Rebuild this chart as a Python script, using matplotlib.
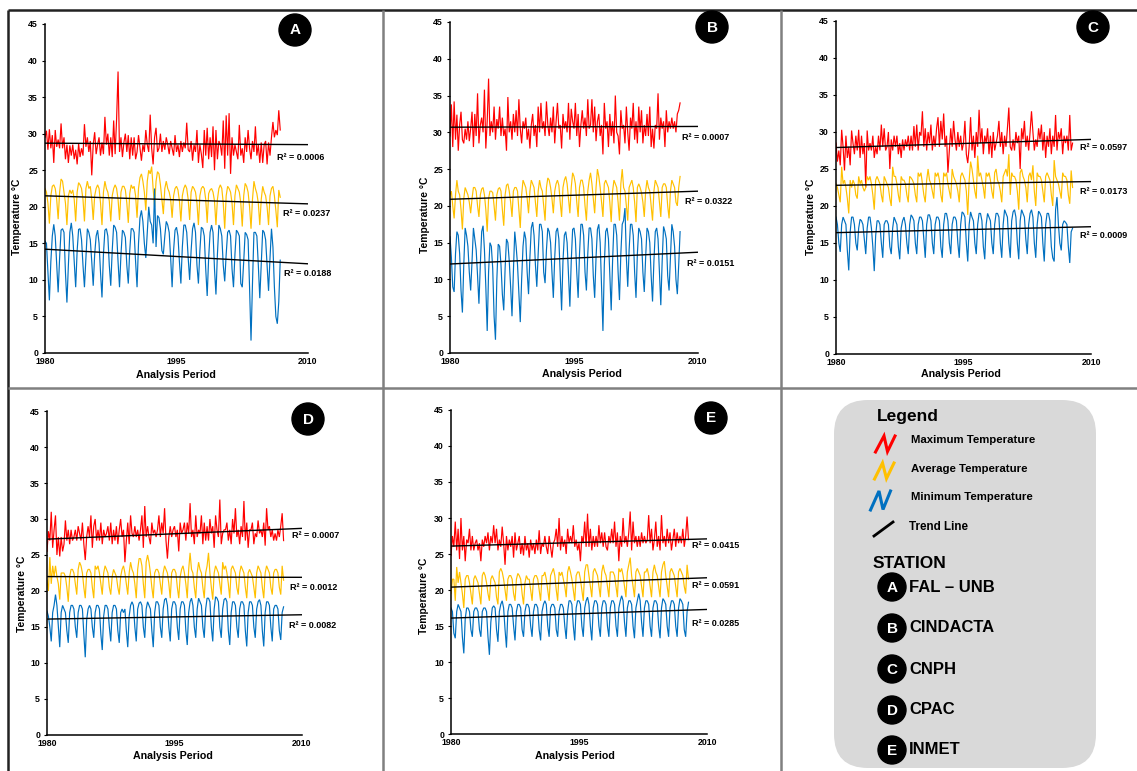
import numpy as np
import matplotlib
matplotlib.use("Agg")
import matplotlib.pyplot as plt
from matplotlib.patches import Circle, FancyBboxPatch

plt.rcParams['font.family'] = ['Liberation Sans', 'DejaVu Sans']

W, H = 1137, 771

# ---------------- data ----------------
PANELS = ["A", "B", "C", "D", "E"]
STATIONS = ["FAL – UNB", "CINDACTA", "CNPH", "CPAC", "INMET"]
SERIES_NAMES = ["Maximum Temperature", "Average Temperature", "Minimum Temperature"]
START_YEAR = 1980
PTS_PER_YEAR = 6          # one value every two months
X_TICKS = [1980, 1995, 2010]
Y_TICKS = list(range(0, 50, 5))

A_MAX = [
    29.5, 30.4, 27.8, 30.6, 28.0, 29.8,
    26.0, 30.5, 28.2, 29.2, 28.0, 31.4,
    28.0, 29.5, 26.5, 28.5, 26.0, 28.4,
    27.0, 28.5, 26.5, 27.8, 25.8, 28.6,
    26.8, 28.0, 27.0, 31.3, 28.2, 29.5,
    27.5, 29.0, 24.3, 28.5, 30.2, 27.2,
    28.5, 29.5, 27.0, 28.8, 27.2, 32.3,
    28.5, 30.0, 27.0, 29.5, 26.8, 31.8,
    27.2, 32.0, 38.5, 27.5, 29.5, 26.8,
    28.8, 30.0, 27.5, 29.8, 26.5, 29.5,
    27.0, 29.5, 26.5, 27.5, 29.8, 28.0,
    26.3, 28.5, 27.5, 30.5, 28.5, 27.5,
    32.6, 28.0, 25.8, 29.5, 30.8, 27.5,
    28.0, 30.0, 27.5, 29.0, 27.8, 29.5,
    28.5, 27.2, 29.0, 28.0, 27.0, 29.8,
    27.5, 28.5, 26.8, 29.0, 27.5, 28.8,
    28.0, 31.5, 27.8, 27.5, 29.0, 26.3,
    28.5, 27.5, 30.5, 26.0, 28.5, 27.2,
    25.3, 30.5, 27.0, 30.8, 26.5, 29.5,
    26.8, 31.0, 25.0, 30.5, 26.5, 29.0,
    28.5, 27.0, 31.8, 25.2, 32.5, 27.0,
    32.8, 24.5, 29.5, 27.0, 28.5, 27.5,
    26.5, 31.2, 27.0, 28.0, 26.0, 29.5,
    27.5, 30.5, 28.0, 26.5, 29.0, 27.5,
    31.0, 27.0, 28.5, 26.0, 28.8, 26.0,
    28.5, 29.0, 25.8, 28.8, 27.0, 29.5,
    31.6, 29.5, 30.5, 29.8, 33.2, 30.5,
]
A_AVG = [
    22.5, 22.0, 20.5, 17.7, 21.5, 22.8,
    23.0, 22.5, 21.0, 18.3, 22.0, 23.8,
    23.5, 22.0, 20.5, 17.5, 21.5, 22.3,
    21.8, 22.3, 21.0, 18.0, 22.0, 23.3,
    23.0, 22.5, 21.0, 18.0, 22.5, 23.5,
    22.5, 22.8, 21.0, 18.2, 21.5, 22.5,
    23.0, 22.5, 20.5, 17.5, 22.0, 23.5,
    22.5, 22.0, 20.8, 18.0, 21.5, 22.5,
    23.0, 22.5, 21.0, 18.2, 22.0, 22.8,
    22.8, 22.3, 20.5, 17.8, 21.8, 23.0,
    22.5, 22.8, 21.5, 18.5, 22.5, 24.0,
    24.5, 23.5, 22.0, 19.5, 23.5, 25.0,
    24.5, 25.5, 22.5, 20.0, 23.5, 24.8,
    24.5, 23.0, 21.0, 19.0, 22.5, 23.5,
    22.5, 22.0, 21.0, 18.5, 21.5, 22.5,
    22.8, 22.3, 20.8, 18.0, 21.5, 22.5,
    23.0, 22.5, 21.0, 18.2, 22.0, 22.8,
    22.5, 22.0, 20.5, 17.5, 21.5, 22.5,
    22.8, 22.5, 21.0, 17.8, 21.8, 22.3,
    22.5, 22.0, 20.8, 17.5, 21.0, 22.5,
    23.0, 22.5, 20.5, 17.0, 21.5, 22.8,
    22.5, 22.0, 20.5, 17.5, 21.5, 23.0,
    22.5, 22.0, 20.5, 17.3, 21.5, 23.2,
    22.8, 22.0, 20.0, 17.0, 21.0, 23.5,
    22.5, 21.8, 20.5, 17.5, 21.0, 22.8,
    22.0, 21.5, 20.0, 17.5, 21.5, 22.5,
    22.8, 21.5, 19.5, 17.2, 22.3, 21.3,
]
A_MIN = [
    15.3, 15.0, 11.0, 7.2, 12.5, 16.0,
    17.6, 16.0, 12.0, 8.3, 13.0, 16.8,
    17.0, 16.5, 11.0, 6.9, 12.0, 16.5,
    17.8, 16.0, 12.5, 9.0, 14.0, 16.9,
    17.0, 15.5, 12.0, 9.0, 13.0, 17.0,
    16.5, 15.5, 12.5, 9.2, 13.5, 16.0,
    16.8, 15.0, 11.0, 7.6, 13.5, 16.8,
    17.0, 16.0, 12.0, 9.2, 14.0, 17.5,
    17.2, 16.5, 12.5, 9.0, 13.5, 16.8,
    16.5, 15.8, 12.0, 9.5, 14.0, 17.0,
    17.0, 16.5, 12.5, 9.0, 15.0, 18.5,
    19.5, 18.0, 15.0, 13.0, 16.5, 20.0,
    18.0, 17.5, 15.0, 22.5, 14.5, 18.8,
    18.5, 17.0, 14.0, 13.5, 16.0, 18.0,
    17.5, 16.5, 13.0, 9.0, 14.0, 16.8,
    17.2, 16.0, 12.5, 9.5, 14.5, 17.5,
    17.5, 16.5, 13.0, 10.0, 14.0, 17.0,
    17.8, 16.5, 12.0, 9.5, 14.0, 17.2,
    17.0, 16.0, 11.5, 7.8, 13.0, 16.5,
    17.5, 16.5, 11.5, 8.0, 13.5, 17.5,
    17.0, 16.0, 12.0, 9.8, 13.5, 16.5,
    16.8, 16.0, 11.5, 9.0, 13.5, 16.8,
    16.5, 16.0, 9.5, 9.0, 12.5, 16.5,
    16.2, 15.5, 9.0, 1.7, 9.5, 16.5,
    16.5, 16.0, 12.0, 7.5, 12.0, 16.8,
    16.5, 15.5, 12.0, 8.5, 13.0, 17.0,
    14.5, 9.0, 5.0, 4.0, 7.0, 12.7,
]

B_MAX = [
    29.5, 33.8, 28.0, 34.2, 29.0, 32.4,
    27.5, 31.0, 32.8, 29.0, 28.5, 30.5,
    29.0, 31.5, 28.8, 30.5, 32.8, 28.0,
    32.5, 29.5, 35.3, 28.5, 31.0, 32.0,
    30.0, 35.8, 27.8, 31.5, 37.3, 29.5,
    31.5, 30.0, 33.5, 29.0, 31.8, 30.5,
    33.5, 29.5, 32.0, 29.5, 30.5, 27.5,
    34.8, 30.0, 31.5, 29.0, 32.5, 30.0,
    33.0, 29.5, 34.5, 30.5, 28.5, 31.5,
    30.5, 32.0, 29.0, 30.5, 27.8, 31.0,
    32.5, 29.5, 31.0, 28.0, 33.5, 30.0,
    34.0, 30.5, 31.5, 29.5, 34.2, 31.0,
    29.5, 32.0, 30.0, 33.5, 28.5, 31.5,
    34.0, 30.5, 31.0, 27.8, 32.5, 30.5,
    31.5, 30.0, 34.0, 29.0, 33.2, 31.5,
    30.5, 34.0, 29.5, 32.5, 28.0, 31.0,
    33.0, 30.5, 32.0, 29.5, 34.5, 30.5,
    31.0, 34.5, 30.0, 33.5, 28.8, 31.5,
    32.5, 29.5, 31.0, 27.0, 34.0, 30.5,
    31.5, 28.0, 32.5, 29.5, 31.5, 28.5,
    35.0, 30.0, 29.5, 27.0, 33.0, 30.5,
    31.0, 28.5, 33.5, 30.0, 27.5, 32.0,
    30.5, 34.0, 29.0, 31.5, 28.5, 33.5,
    30.0, 33.0, 28.5, 31.0, 29.5, 32.5,
    29.5, 33.5, 28.0, 30.5, 27.8, 31.0,
    30.5, 35.3, 29.0, 32.0, 30.5, 31.5,
    28.0, 33.0, 30.0, 31.5, 30.5, 32.0,
    30.5, 31.5, 30.0, 32.5, 33.0, 34.0,
]
B_AVG = [
    21.5, 22.0, 20.0, 18.3, 21.5, 23.5,
    22.0, 21.5, 19.5, 16.8, 21.0, 22.5,
    22.0, 21.5, 20.5, 19.0, 21.0, 22.5,
    22.5, 22.0, 20.0, 18.5, 21.5, 22.3,
    22.5, 21.5, 19.5, 16.5, 21.0, 22.0,
    22.0, 21.8, 20.0, 18.0, 21.5, 22.3,
    22.5, 22.0, 19.5, 17.3, 21.5, 22.8,
    23.0, 22.0, 20.5, 18.5, 22.0, 22.5,
    22.5, 22.0, 19.5, 17.0, 21.5, 23.5,
    23.0, 22.5, 21.0, 19.0, 22.0, 23.5,
    23.0, 22.5, 20.5, 18.5, 22.0, 23.5,
    22.5, 22.0, 20.0, 18.0, 22.5, 23.8,
    23.5, 22.5, 21.0, 19.0, 22.0, 23.0,
    23.5, 22.8, 20.5, 18.5, 22.5, 23.5,
    24.0, 23.0, 21.0, 19.0, 22.5, 24.5,
    24.0, 23.0, 20.5, 18.5, 22.5, 23.5,
    23.5, 22.5, 20.0, 18.0, 22.0, 23.5,
    24.5, 23.0, 21.0, 19.0, 22.5, 25.0,
    24.0, 22.5, 20.5, 18.5, 23.0, 23.5,
    23.0, 22.5, 20.5, 17.8, 22.0, 23.5,
    23.0, 22.5, 20.5, 18.0, 23.0, 25.0,
    22.5, 22.0, 20.0, 18.0, 22.5, 23.0,
    23.5, 22.5, 20.5, 17.8, 22.5, 23.0,
    22.5, 21.8, 20.5, 18.5, 22.0, 23.5,
    22.5, 22.0, 20.0, 18.0, 22.0, 23.5,
    23.0, 22.5, 20.5, 18.5, 22.5, 23.0,
    23.0, 22.5, 20.0, 18.3, 22.0, 23.5,
    23.0, 22.5, 20.5, 20.0, 22.5, 24.0,
]
B_MIN = [
    15.8, 13.0, 9.0, 8.3, 13.5, 16.5,
    16.0, 13.5, 8.5, 5.5, 12.0, 17.0,
    16.0, 14.5, 11.0, 8.5, 12.5, 17.0,
    15.5, 14.0, 10.5, 6.7, 12.0, 16.5,
    17.3, 14.0, 9.0, 3.0, 11.0, 15.0,
    14.5, 11.5, 5.0, 1.8, 10.0, 14.8,
    14.5, 12.0, 8.0, 5.8, 11.5, 15.5,
    15.0, 12.5, 9.0, 5.0, 11.0, 16.5,
    14.5, 12.0, 8.0, 4.2, 10.0, 14.5,
    16.5, 15.5, 11.0, 8.0, 13.0, 17.0,
    17.8, 16.0, 12.0, 9.0, 13.5, 17.5,
    17.5, 16.5, 11.0, 9.5, 14.0, 17.0,
    16.5, 15.0, 11.0, 7.5, 13.0, 16.5,
    17.0, 15.5, 10.5, 5.8, 12.5, 16.0,
    16.5, 15.0, 10.5, 6.3, 12.5, 16.8,
    17.0, 15.5, 11.0, 7.5, 13.5, 17.5,
    17.5, 16.0, 11.0, 8.5, 13.5, 17.0,
    17.0, 15.5, 10.5, 7.5, 13.0, 16.8,
    17.5, 15.0, 9.0, 3.0, 12.0, 16.5,
    17.0, 15.5, 10.5, 5.8, 12.5, 17.5,
    17.5, 16.0, 11.0, 7.2, 13.5, 17.5,
    18.0, 19.7, 13.0, 9.0, 14.0, 17.5,
    17.5, 16.0, 11.0, 7.5, 13.5, 17.0,
    16.5, 15.5, 11.0, 8.3, 13.0, 17.0,
    16.5, 15.0, 10.5, 7.0, 12.5, 16.5,
    17.0, 15.5, 11.0, 6.5, 12.5, 17.2,
    16.5, 15.5, 10.5, 8.5, 13.0, 17.5,
    16.5, 14.5, 10.0, 8.0, 12.0, 16.5,
]

C_MAX = [
    28.5, 26.0, 27.5, 25.5, 30.3, 28.0,
    24.8, 29.5, 26.5, 28.0, 25.5, 30.2,
    28.5, 27.0, 29.5, 27.5, 30.3, 26.5,
    29.5, 27.0, 28.5, 22.5, 30.2, 27.5,
    28.5, 27.5, 29.5, 26.5, 28.0, 27.0,
    29.5, 27.5, 31.0, 28.0, 30.5, 27.5,
    28.0, 30.0, 25.0, 29.0, 27.5, 29.5,
    28.0, 29.5, 27.0, 28.5, 26.5, 29.0,
    27.5, 29.0, 28.0, 29.5, 27.5, 29.5,
    27.5, 30.8, 28.0, 31.0, 27.5, 30.0,
    29.5, 32.8, 28.0, 30.5, 27.5, 30.0,
    28.5, 31.0, 27.5, 29.5, 28.0, 30.5,
    32.0, 28.0, 31.5, 29.0, 32.5, 28.0,
    29.5, 24.5, 27.5, 30.5, 28.0, 31.5,
    29.0, 27.5, 30.0, 28.0, 29.5, 27.5,
    28.5, 31.5, 27.0, 25.8, 28.0, 32.0,
    27.5, 29.5, 26.5, 30.0, 28.0, 33.0,
    28.5, 30.5, 27.0, 29.5, 28.5, 30.5,
    27.0, 29.5, 26.5, 30.0, 27.5, 28.5,
    29.5, 31.5, 28.0, 30.0, 27.0, 29.5,
    28.0, 30.5, 33.3, 28.0, 27.5, 29.0,
    27.5, 30.0, 28.5, 29.5, 25.0, 30.5,
    29.0, 31.5, 28.0, 29.5, 27.5, 30.0,
    32.8, 30.0, 27.5, 29.0, 28.0, 30.5,
    29.0, 31.0, 27.5, 30.0, 26.5, 29.5,
    28.0, 30.5, 27.0, 29.5, 28.0, 32.3,
    27.5, 30.0, 29.0, 30.5, 27.0, 29.5,
    28.5, 29.5, 27.5, 32.3, 27.5, 28.5,
]
C_AVG = [
    23.0, 22.5, 21.5, 20.5, 25.3, 23.0,
    23.5, 22.5, 21.0, 19.0, 23.5, 22.5,
    23.5, 23.0, 21.5, 21.0, 24.0, 23.0,
    23.5, 22.5, 22.0, 22.5, 24.0, 23.5,
    24.0, 23.0, 21.5, 19.5, 23.5, 24.0,
    23.5, 23.0, 21.5, 20.5, 24.0, 23.5,
    23.0, 22.5, 21.0, 20.0, 25.3, 24.0,
    24.0, 23.0, 21.5, 20.5, 24.0, 23.5,
    23.5, 23.0, 21.5, 20.5, 24.0, 23.8,
    23.5, 23.0, 21.5, 20.5, 24.5, 24.0,
    24.5, 23.0, 21.5, 20.5, 23.5, 25.0,
    23.5, 23.0, 22.0, 21.0, 24.5, 24.0,
    24.5, 23.5, 21.5, 20.5, 24.5, 24.0,
    24.5, 23.0, 22.0, 21.0, 25.0, 24.0,
    23.5, 23.0, 22.0, 20.5, 24.0, 24.5,
    24.0, 23.5, 22.0, 18.8, 23.5, 26.0,
    25.0, 23.5, 22.0, 21.0, 26.8, 24.0,
    24.5, 23.5, 22.5, 21.0, 24.5, 24.0,
    24.5, 23.5, 22.0, 21.0, 24.5, 25.0,
    23.5, 23.0, 22.0, 20.5, 24.0, 24.5,
    25.0, 24.0, 27.0, 21.5, 24.5, 24.0,
    24.0, 23.5, 22.0, 19.5, 24.5, 25.0,
    24.0, 23.5, 22.5, 20.5, 24.0, 24.5,
    23.5, 25.5, 22.0, 20.0, 24.5, 24.0,
    24.0, 23.5, 22.0, 20.5, 24.0, 24.5,
    24.0, 23.5, 21.5, 20.0, 26.2, 24.0,
    23.5, 23.0, 22.0, 21.0, 24.5, 24.0,
    24.0, 23.5, 21.5, 20.3, 24.8, 22.5,
]
C_MIN = [
    18.5, 17.5, 15.0, 13.8, 17.5, 18.5,
    18.0, 17.5, 14.0, 11.3, 16.5, 18.5,
    18.5, 17.5, 15.0, 14.0, 17.0, 18.2,
    18.0, 17.5, 15.5, 13.5, 17.0, 18.5,
    18.5, 17.0, 14.5, 11.2, 16.0, 18.0,
    18.0, 17.5, 15.0, 13.0, 17.5, 18.0,
    18.0, 17.5, 14.5, 13.5, 17.0, 18.5,
    18.0, 17.5, 14.5, 12.8, 17.0, 18.0,
    18.5, 17.5, 15.0, 13.5, 17.5, 18.8,
    18.5, 18.0, 15.0, 13.5, 17.5, 18.5,
    18.5, 18.0, 15.5, 13.0, 17.5, 18.8,
    18.8, 18.0, 15.0, 13.5, 17.5, 18.5,
    18.5, 18.0, 14.5, 13.0, 17.5, 19.0,
    19.0, 18.0, 15.0, 13.5, 17.5, 18.5,
    18.5, 18.0, 15.0, 13.0, 17.5, 19.2,
    19.0, 18.5, 15.0, 12.5, 17.5, 19.2,
    18.5, 18.0, 15.0, 13.5, 17.5, 19.0,
    19.0, 18.0, 14.5, 12.8, 17.5, 19.0,
    18.5, 18.0, 15.0, 13.5, 17.5, 19.0,
    19.0, 18.5, 15.0, 13.0, 17.5, 19.5,
    19.0, 18.5, 15.0, 13.0, 18.0, 19.2,
    19.5, 18.5, 15.0, 12.8, 18.0, 19.5,
    19.0, 18.5, 15.5, 13.5, 17.5, 19.0,
    19.5, 18.5, 15.0, 13.0, 17.5, 19.3,
    19.0, 18.5, 15.0, 12.5, 17.5, 19.0,
    19.0, 18.0, 14.5, 13.0, 12.5, 19.5,
    21.2, 17.5, 15.0, 14.0, 17.5, 18.0,
    17.8, 17.5, 14.5, 12.3, 16.5, 17.0,
]

D_MAX = [
    25.5, 28.3, 27.0, 31.0, 26.0, 28.5,
    30.5, 25.0, 27.5, 24.8, 27.5, 25.5,
    26.5, 29.8, 27.0, 28.5, 26.5, 28.5,
    27.0, 27.5, 28.5, 27.0, 29.0, 28.0,
    27.0, 29.5, 26.5, 24.3, 27.5, 29.0,
    27.5, 30.5, 26.0, 29.0, 30.0, 27.0,
    28.5, 27.0, 29.5, 26.5, 28.5, 27.5,
    28.0, 29.0, 27.0, 29.5, 26.5, 28.5,
    27.0, 29.0, 26.5, 28.5, 30.0, 27.5,
    28.5, 24.0, 27.0, 29.5, 26.5, 30.5,
    28.0, 27.5, 29.0, 27.5, 28.5, 27.0,
    28.5, 30.5, 26.0, 31.8, 27.5, 29.0,
    27.5, 26.5, 29.5, 28.0, 28.5, 27.5,
    28.5, 30.5, 27.5, 29.5, 28.0, 31.5,
    27.0, 24.5, 27.5, 29.0, 27.5, 28.5,
    29.0, 27.5, 28.5, 25.5, 29.5, 28.0,
    28.5, 29.5, 27.0, 29.5, 28.0, 32.2,
    27.5, 28.5, 26.5, 30.5, 27.5, 28.5,
    28.0, 30.5, 26.5, 29.5, 27.0, 29.0,
    27.0, 30.0, 28.0, 29.0, 26.0, 30.5,
    28.5, 27.5, 32.7, 26.5, 28.0, 28.5,
    28.5, 29.5, 27.0, 28.5, 26.5, 30.0,
    28.0, 31.5, 27.5, 28.5, 26.5, 29.0,
    27.5, 32.5, 27.0, 29.5, 26.0, 28.5,
    28.5, 29.5, 26.5, 28.0, 27.5, 29.8,
    28.0, 28.5, 27.5, 29.5, 26.3, 31.5,
    28.5, 29.0, 27.5, 28.5, 27.0, 28.0,
    27.0, 28.5, 27.5, 29.0, 30.8, 27.0,
]
D_AVG = [
    21.5, 20.0, 24.7, 21.0, 23.5, 22.0,
    23.5, 22.0, 21.0, 18.8, 22.5, 22.5,
    22.5, 22.0, 20.5, 18.5, 22.0, 23.0,
    23.0, 22.5, 21.0, 19.5, 23.0, 24.0,
    23.5, 22.5, 20.5, 19.0, 22.5, 23.0,
    23.0, 22.5, 20.5, 19.0, 23.5, 23.0,
    23.5, 22.5, 21.0, 19.5, 22.5, 23.5,
    23.0, 22.5, 20.5, 19.5, 22.0, 23.0,
    22.5, 22.0, 20.5, 19.5, 22.0, 23.0,
    23.5, 22.5, 21.0, 19.5, 22.5, 24.0,
    23.0, 22.5, 21.0, 19.0, 23.0, 24.5,
    24.5, 23.5, 21.0, 19.0, 24.0, 25.0,
    24.0, 22.5, 20.5, 19.0, 22.5, 23.0,
    23.0, 22.5, 21.0, 19.5, 22.5, 23.5,
    23.0, 22.5, 21.0, 19.0, 22.5, 23.0,
    23.0, 22.5, 20.5, 19.0, 22.0, 23.0,
    23.5, 22.5, 21.0, 19.0, 23.0, 25.3,
    23.0, 22.5, 20.5, 19.0, 22.5, 24.0,
    23.0, 22.5, 20.5, 19.0, 22.5, 23.5,
    25.3, 22.5, 20.5, 18.8, 22.5, 23.5,
    23.0, 22.5, 21.0, 19.5, 24.0, 23.0,
    23.5, 22.5, 21.0, 19.0, 23.0, 23.5,
    23.0, 22.5, 20.5, 19.5, 22.5, 23.5,
    23.0, 22.5, 20.5, 19.0, 22.5, 23.0,
    22.5, 22.0, 20.5, 19.0, 22.5, 23.5,
    23.0, 22.5, 20.5, 19.0, 22.5, 23.5,
    23.0, 22.5, 20.5, 19.5, 22.5, 23.0,
    23.0, 22.5, 20.5, 19.5, 23.5, 21.5,
]
D_MIN = [
    17.2, 16.5, 15.0, 13.0, 17.0, 18.0,
    19.5, 18.0, 15.0, 12.2, 17.0, 18.0,
    17.5, 17.0, 14.5, 12.8, 17.0, 18.0,
    18.0, 17.5, 15.0, 13.5, 17.0, 18.0,
    18.0, 17.5, 14.0, 10.8, 16.0, 17.5,
    18.0, 17.5, 15.0, 13.5, 17.0, 18.0,
    18.0, 17.5, 14.0, 11.8, 16.5, 18.0,
    18.0, 17.5, 15.0, 13.0, 17.0, 18.0,
    18.0, 17.5, 14.5, 12.8, 17.0, 17.5,
    17.0, 17.5, 14.5, 12.2, 16.5, 18.0,
    18.5, 18.0, 15.0, 13.0, 17.5, 18.3,
    18.5, 18.0, 15.0, 13.5, 17.5, 18.5,
    18.0, 17.5, 14.5, 12.2, 17.0, 18.5,
    18.5, 18.0, 15.0, 13.5, 17.5, 18.8,
    19.0, 18.0, 15.0, 13.0, 17.5, 18.5,
    18.5, 18.0, 15.0, 13.2, 17.5, 18.5,
    18.5, 18.0, 14.5, 12.5, 17.0, 18.5,
    19.0, 18.0, 15.0, 13.5, 17.5, 19.0,
    18.5, 18.0, 15.0, 13.5, 17.5, 19.0,
    19.0, 18.5, 15.0, 13.0, 17.5, 19.2,
    19.0, 18.5, 15.0, 13.5, 17.5, 18.8,
    19.0, 18.5, 14.5, 12.5, 17.0, 18.5,
    18.5, 18.0, 15.0, 13.5, 17.5, 18.5,
    18.5, 18.0, 14.5, 12.3, 17.0, 18.5,
    18.5, 18.0, 15.0, 13.5, 17.5, 18.5,
    18.8, 18.0, 14.5, 12.3, 17.0, 18.5,
    18.5, 18.0, 15.0, 13.0, 17.5, 18.0,
    18.0, 17.5, 14.5, 13.2, 17.0, 17.8,
]

E_MAX = [
    24.8, 27.5, 26.0, 29.5, 25.5, 28.5,
    24.3, 30.0, 25.5, 27.5, 24.0, 27.0,
    26.5, 28.5, 25.5, 27.5, 25.5, 26.5,
    27.0, 25.5, 26.5, 24.0, 27.0, 26.0,
    27.5, 26.5, 28.0, 25.5, 27.5, 26.5,
    29.0, 26.5, 28.5, 25.5, 27.0, 26.0,
    28.8, 26.5, 23.5, 27.5, 25.5, 27.0,
    26.0, 27.5, 24.5, 28.0, 25.5, 26.5,
    27.5, 25.0, 26.5, 24.8, 27.5, 25.5,
    26.5, 24.5, 27.0, 25.5, 26.5, 25.0,
    27.0, 25.5, 28.3, 25.0, 26.5, 26.0,
    27.5, 26.0, 25.0, 27.5, 26.0, 24.5,
    26.5, 27.0, 28.5, 26.0, 30.0, 25.5,
    27.5, 26.0, 27.0, 25.0, 28.5, 26.5,
    27.5, 26.5, 29.0, 26.0, 27.0, 25.5,
    26.5, 24.0, 27.5, 26.5, 29.5, 26.0,
    30.6, 26.0, 28.5, 25.5, 27.5, 26.0,
    27.5, 26.0, 29.0, 26.5, 28.0, 26.0,
    28.0, 26.0, 25.5, 27.5, 26.5, 28.5,
    26.5, 29.5, 26.0, 28.0, 24.0, 27.5,
    26.0, 30.0, 26.5, 27.5, 26.0, 28.0,
    30.9, 25.5, 29.5, 26.5, 27.5, 26.0,
    27.5, 26.0, 28.0, 26.5, 27.5, 26.5,
    27.0, 30.4, 26.5, 28.5, 25.5, 27.0,
    29.5, 26.0, 27.5, 25.5, 30.4, 26.5,
    27.5, 26.0, 28.5, 26.5, 28.0, 25.5,
    27.0, 28.5, 26.0, 28.0, 26.5, 27.5,
    26.5, 28.5, 26.0, 27.5, 30.2, 27.0,
]
E_AVG = [
    19.5, 21.5, 21.5, 18.5, 23.2, 21.0,
    22.5, 21.0, 19.5, 17.5, 21.5, 22.0,
    22.0, 21.0, 19.5, 18.0, 21.5, 22.0,
    21.5, 21.0, 19.5, 18.0, 22.0, 22.5,
    22.0, 21.0, 19.5, 18.5, 21.5, 22.0,
    21.5, 21.0, 19.0, 18.0, 22.5, 23.0,
    22.5, 21.5, 20.0, 18.5, 21.5, 22.0,
    22.0, 21.5, 19.5, 18.5, 21.5, 22.3,
    22.0, 21.5, 19.5, 18.0, 21.0, 22.0,
    21.5, 21.5, 20.0, 18.5, 21.5, 22.0,
    22.0, 21.5, 20.0, 18.5, 22.0, 22.0,
    22.5, 21.5, 20.0, 18.5, 22.0, 22.5,
    23.0, 22.0, 20.0, 18.5, 22.5, 22.0,
    22.5, 21.5, 20.5, 19.0, 22.5, 23.3,
    22.5, 21.5, 20.0, 18.5, 22.0, 22.5,
    22.5, 21.5, 20.0, 18.5, 22.5, 23.5,
    23.5, 22.0, 20.5, 19.0, 22.5, 23.0,
    22.5, 22.0, 20.5, 19.0, 22.5, 23.5,
    22.5, 22.0, 20.5, 19.0, 22.5, 22.5,
    22.5, 22.0, 20.5, 19.0, 23.0, 22.5,
    23.0, 22.0, 20.5, 19.0, 22.5, 23.5,
    24.5, 22.0, 20.5, 19.0, 22.5, 23.0,
    22.5, 22.0, 20.5, 19.0, 22.5, 22.5,
    23.0, 22.0, 20.5, 19.0, 22.5, 23.5,
    22.5, 22.0, 20.5, 19.0, 22.5, 23.5,
    24.0, 22.0, 20.5, 19.0, 22.5, 23.0,
    22.5, 22.0, 20.5, 19.0, 22.5, 23.0,
    22.5, 22.0, 20.5, 19.5, 23.5, 21.5,
]
E_MIN = [
    17.5, 17.0, 14.0, 13.3, 17.0, 18.0,
    17.5, 17.0, 13.5, 11.2, 16.0, 17.5,
    17.5, 17.0, 14.5, 13.5, 17.0, 17.5,
    17.5, 17.0, 14.5, 13.5, 17.0, 17.5,
    17.5, 17.0, 13.5, 11.0, 15.5, 17.5,
    17.8, 17.5, 14.5, 12.8, 17.0, 18.0,
    18.5, 17.5, 14.5, 12.0, 17.0, 18.0,
    18.0, 17.5, 15.0, 13.0, 17.0, 18.0,
    18.0, 17.5, 14.5, 13.5, 17.0, 18.0,
    18.0, 17.5, 15.0, 13.5, 17.0, 18.0,
    18.0, 17.5, 14.5, 13.0, 17.0, 18.0,
    18.5, 18.0, 15.0, 13.5, 17.5, 18.0,
    18.0, 17.5, 14.5, 13.5, 17.0, 18.0,
    18.0, 17.5, 15.0, 13.2, 17.0, 18.5,
    18.5, 18.0, 15.0, 13.0, 17.5, 18.5,
    18.5, 18.0, 15.0, 13.5, 17.5, 18.5,
    19.0, 18.0, 15.0, 13.0, 17.5, 18.5,
    18.5, 18.0, 15.0, 13.5, 17.5, 18.5,
    18.5, 18.0, 15.0, 13.5, 17.5, 18.5,
    18.5, 18.0, 15.0, 13.5, 17.5, 18.5,
    19.2, 18.5, 15.5, 13.5, 17.5, 18.5,
    18.5, 18.0, 15.0, 13.3, 17.5, 18.5,
    19.5, 18.5, 15.5, 13.5, 17.5, 18.5,
    18.5, 18.0, 15.0, 13.5, 17.5, 18.5,
    18.5, 18.0, 15.0, 13.3, 17.5, 18.8,
    18.5, 18.0, 15.0, 13.5, 17.5, 18.5,
    18.5, 18.0, 15.0, 13.5, 17.5, 18.8,
    18.5, 18.0, 14.5, 13.5, 17.0, 18.3,
]

# trend lines: (value at 1980, value at 2010) for max, avg, min
TREND_A = [(28.7, 28.5), (21.5, 20.4), (14.2, 12.2)]
TREND_B = [(30.7, 30.8), (20.9, 22.0), (12.1, 13.7)]
TREND_C = [(27.9, 29.0), (22.8, 23.3), (16.4, 17.2)]
TREND_D = [(27.2, 28.7), (22.0, 21.9), (16.1, 16.7)]
TREND_E = [(26.1, 27.1), (20.4, 21.7), (16.1, 17.3)]

R2_A = ["0.0006", "0.0237", "0.0188"]
R2_B = ["0.0007", "0.0322", "0.0151"]
R2_C = ["0.0597", "0.0173", "0.0009"]
R2_D = ["0.0007", "0.0012", "0.0082"]
R2_E = ["0.0415", "0.0591", "0.0285"]

# ---------------- style / layout ----------------
COLORS = ["#ff0000", "#ffc000", "#0070c0"]
GRAY = "#808080"

# axes boxes in pixels: x_left, x_right, y_top(=45), y_bottom(=0)
AX_PX = {
    "A": (45, 308, 24, 353),
    "B": (450, 698, 22, 353),
    "C": (836, 1091, 21, 354),
    "D": (47, 302, 411, 735),
    "E": (451, 707, 410, 734),
}
YLABEL_PX = {"A": (17, 217), "B": (425, 215), "C": (811, 217), "D": (22, 594), "E": (424, 596)}
XLABEL_PX = {"A": (176, 375), "B": (582, 374), "C": (961, 374), "D": (173, 756), "E": (575, 756)}
BADGE_PX = {"A": (295, 30), "B": (712, 27), "C": (1093, 27), "D": (308, 419), "E": (711, 418)}
R2_PX = {
    "A": [(277, 158), (283, 213), (284, 274)],
    "B": [(682, 137), (685, 201), (687, 263)],
    "C": [(1080, 147), (1080, 191), (1080, 236)],
    "D": [(292, 536), (290, 588), (289, 626)],
    "E": [(692, 546), (692, 586), (692, 623)],
}

DATA = {
    "A": (A_MAX, A_AVG, A_MIN, TREND_A, R2_A),
    "B": (B_MAX, B_AVG, B_MIN, TREND_B, R2_B),
    "C": (C_MAX, C_AVG, C_MIN, TREND_C, R2_C),
    "D": (D_MAX, D_AVG, D_MIN, TREND_D, R2_D),
    "E": (E_MAX, E_AVG, E_MIN, TREND_E, R2_E),
}

fig = plt.figure(figsize=(W / 100, H / 100), dpi=100)
fig.patch.set_facecolor("white")

for p in PANELS:
    x0, x1, yt, yb = AX_PX[p]
    ax = fig.add_axes([x0 / W, 1 - yb / H, (x1 - x0) / W, (yb - yt) / H])
    ax.set_facecolor("none")
    smax, savg, smin, trend, r2 = DATA[p]
    for vals, col in zip((smax, savg, smin), COLORS):
        v = np.asarray(vals, dtype=float)
        x = START_YEAR + np.arange(len(v)) / PTS_PER_YEAR
        ax.plot(x, v, color=col, lw=0.85, solid_joinstyle="miter")
    for (t0, t1) in trend:
        ax.plot([X_TICKS[0], X_TICKS[-1]], [t0, t1], color="black", lw=1.0, zorder=5)
    ax.set_xlim(X_TICKS[0], X_TICKS[-1])
    ax.set_ylim(0, 45)
    ax.set_xticks(X_TICKS)
    ax.set_yticks(Y_TICKS)
    ax.set_xticklabels([str(t) for t in X_TICKS], fontsize=6.3, fontweight="bold")
    ax.set_yticklabels([str(t) for t in Y_TICKS], fontsize=6.3, fontweight="bold")
    ax.tick_params(axis="x", length=0, pad=2.6)
    ax.tick_params(axis="y", length=2.5, width=0.8, pad=2.5)
    for s in ("top", "right"):
        ax.spines[s].set_visible(False)
    for s in ("left", "bottom"):
        ax.spines[s].set_linewidth(1.1)
        ax.spines[s].set_color("black")

# overlay in pixel coordinates
ov = fig.add_axes([0, 0, 1, 1], zorder=10)
ov.set_xlim(0, W)
ov.set_ylim(H, 0)
ov.axis("off")
ov.patch.set_alpha(0)

# frame / separators
ov.plot([8, W], [10, 10], color="#222222", lw=1.8, solid_capstyle="butt")
ov.plot([8, 8], [10, H], color="#222222", lw=1.8, solid_capstyle="butt")
ov.plot([8, W], [388, 388], color=GRAY, lw=1.8, solid_capstyle="butt")
ov.plot([383, 383], [10, H], color=GRAY, lw=1.8, solid_capstyle="butt")
ov.plot([781, 781], [10, H], color=GRAY, lw=1.8, solid_capstyle="butt")

for p in PANELS:
    yx, yy = YLABEL_PX[p]
    ov.text(yx, yy, "Temperature °C", rotation=90, ha="center", va="center",
            fontsize=7.4, fontweight="bold")
    xx, xy = XLABEL_PX[p]
    ov.text(xx, xy, "Analysis Period", ha="center", va="center",
            fontsize=7.7, fontweight="bold")
    bx, by = BADGE_PX[p]
    ov.add_patch(Circle((bx, by), 16, color="black", zorder=3))
    ov.text(bx, by + 0.5, p, ha="center", va="center", color="white",
            fontsize=11, fontweight="bold", zorder=4)
    r2 = DATA[p][4]
    for (rx, ry), val in zip(R2_PX[p], r2):
        ov.text(rx, ry, "R² = " + val, ha="left", va="center",
                fontsize=6.5, fontweight="bold")

# legend panel
ov.add_patch(FancyBboxPatch((834, 400), 262, 368,
                            boxstyle="round,pad=0,rounding_size=34",
                            fc="#d9d9d9", ec="none", zorder=1))
ov.text(877, 417, "Legend", ha="left", va="center", fontsize=12.5, fontweight="bold", zorder=4)

ICONS = [
    [(875.5, 452), (884, 436), (887.5, 451.5), (895, 436)],
    [(874.5, 479), (882.5, 463), (886.5, 478.5), (894, 463)],
    [(870.5, 510), (879, 491), (883, 509.5), (890.5, 491)],
]
LEG_TEXT_Y = [440, 469, 497]
for pts, col, name, ty in zip(ICONS, COLORS, SERIES_NAMES, LEG_TEXT_Y):
    xs, ys = zip(*pts)
    ov.plot(xs, ys, color=col, lw=2.2, solid_joinstyle="miter", zorder=4)
    ov.text(911, ty, name, ha="left", va="center", fontsize=8.2, fontweight="bold", zorder=4)
ov.plot([874, 893], [536, 522], color="black", lw=2.0, zorder=4)
ov.text(909, 527, "Trend Line", ha="left", va="center", fontsize=8.4, fontweight="bold", zorder=4)

ov.text(873, 563, "STATION", ha="left", va="center", fontsize=12.5, fontweight="bold", zorder=4)
ST_Y = [587, 628, 669, 710, 750]
for p, name, sy in zip(PANELS, STATIONS, ST_Y):
    ov.add_patch(Circle((892, sy), 14, color="black", zorder=3))
    ov.text(892, sy + 1, p, ha="center", va="center", color="white",
            fontsize=11, fontweight="bold", zorder=4)
    ov.text(909, sy, name, ha="left", va="center", fontsize=12, fontweight="bold", zorder=4)

fig.savefig("out.png", dpi=100, facecolor="white")
